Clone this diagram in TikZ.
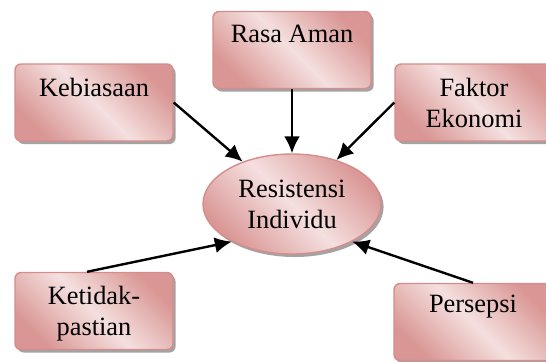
\documentclass[tikz,border=0pt]{standalone}
\usepackage{fontspec}
\setmainfont{Liberation Serif}
\usetikzlibrary{positioning,shapes.geometric,shadows,arrows.meta}

\definecolor{rosedark}{RGB}{217,150,148}
\definecolor{roselight}{RGB}{244,224,223}
\definecolor{roseline}{RGB}{214,140,138}

\tikzset{
  pinkfill/.style={top color=rosedark, bottom color=rosedark,
    middle color=roselight, shading angle=-45, draw=roseline,
    line width=0.7pt,
    drop shadow={shadow xshift=1.3pt, shadow yshift=-1.5pt,
      fill=black!40, opacity=0.9}},
  faktor/.style={pinkfill, rectangle, rounded corners=3pt,
    minimum width=79pt, minimum height=38.5pt, inner sep=0pt},
  inti/.style={pinkfill, ellipse, minimum width=89pt,
    minimum height=50pt, inner sep=0pt, align=center,
    font=\fontsize{13.2}{15.5}\selectfont},
  lbl/.style={inner sep=0pt, align=center,
    font=\fontsize{13.2}{15.5}\selectfont},
  panah/.style={-{Latex[length=8.5pt,width=8pt]}, line width=1.2pt}
}

\begin{document}
\begin{tikzpicture}[x=0.5pt,y=-0.5pt]

  \useasboundingbox (0,0) rectangle (546,361);

  % Boxes of the five factors
  \node[faktor] (keb) at (94,102.5) {};
  \node[faktor] (rasa) at (292,50) {};
  \node[faktor] (fak) at (474,102.5) {};
  \node[faktor] (ket) at (94,311) {};
  \node[faktor] (per) at (473,322) {};

  % Box texts
  \node[lbl, below=7pt] (keb-t) at (keb.north) {Kebiasaan};
  \node[lbl, below=7pt] (rasa-t) at (rasa.north) {Rasa Aman};
  \node[lbl, below=7pt] (fak-t) at (fak.north) {Faktor\\Ekonomi};
  \node[lbl, below=7pt] (ket-t) at (ket.north) {Ketidak-\\pastian};
  \node[lbl, below=6pt] (per-t) at (per.north) {Persepsi};

  % Centre
  \node[inti] (res) at (292,204) {Resistensi\\Individu};

  % Arrows into the centre
  \draw[panah] (keb.east) -- (res);
  \draw[panah] (rasa) -- (res);
  \draw[panah] (fak.west) -- (res);
  \draw[panah] ([xshift=-3.5pt]ket.north) -- (res.212);
  \draw[panah] (per.north) -- (res.328);

\end{tikzpicture}
\end{document}
